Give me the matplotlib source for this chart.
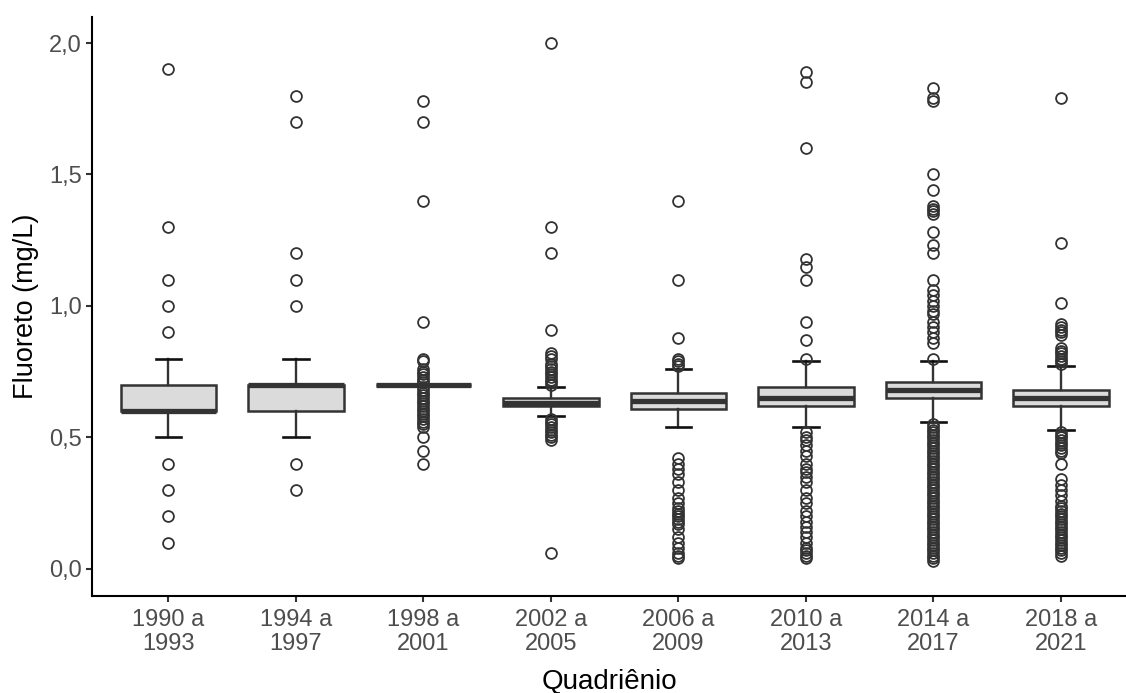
import matplotlib
matplotlib.use("Agg")
import matplotlib.pyplot as plt
from matplotlib.ticker import FuncFormatter

plt.rcParams['font.family'] = ['Liberation Sans', 'DejaVu Sans']

labels = ["1990 a\n1993", "1994 a\n1997", "1998 a\n2001", "2002 a\n2005",
          "2006 a\n2009", "2010 a\n2013", "2014 a\n2017", "2018 a\n2021"]

# box statistics
q1 = [0.60, 0.60, 0.70, 0.62, 0.61, 0.62, 0.65, 0.62]
med = [0.60, 0.70, 0.70, 0.63, 0.64, 0.65, 0.68, 0.65]
q3 = [0.70, 0.70, 0.70, 0.65, 0.67, 0.69, 0.71, 0.68]
whislo = [0.50, 0.50, 0.70, 0.58, 0.54, 0.54, 0.56, 0.53]
whishi = [0.80, 0.80, 0.70, 0.69, 0.76, 0.79, 0.79, 0.77]

out_1990 = [0.1, 0.2, 0.3, 0.4, 0.9, 1.0, 1.1, 1.3, 1.9]
out_1994 = [0.3, 0.4, 1.0, 1.1, 1.2, 1.7, 1.8]
out_1998 = [0.40, 0.45, 0.50, 0.54, 0.55, 0.56, 0.57, 0.58, 0.59, 0.60, 0.61,
            0.62, 0.63, 0.64, 0.65, 0.66, 0.67, 0.68, 0.69, 0.71, 0.72, 0.73,
            0.74, 0.75, 0.76, 0.79, 0.80, 0.94, 1.40, 1.70, 1.78]
out_2002 = [0.06, 0.49, 0.50, 0.51, 0.52, 0.53, 0.54, 0.55, 0.56, 0.57,
            0.70, 0.71, 0.72, 0.73, 0.74, 0.75, 0.76, 0.77, 0.78, 0.80, 0.81,
            0.82, 0.91, 1.2, 1.3, 2.0]
out_2006 = [0.04, 0.05, 0.06, 0.08, 0.10, 0.12, 0.15, 0.17, 0.18, 0.19, 0.20,
            0.21, 0.22, 0.23, 0.25, 0.27, 0.30, 0.33, 0.36, 0.38, 0.40, 0.42,
            0.77, 0.78, 0.79, 0.80, 0.88, 1.1, 1.4]
out_2010 = [0.04, 0.05, 0.06, 0.07, 0.08, 0.10, 0.12, 0.14, 0.16, 0.18, 0.20,
            0.22, 0.25, 0.27, 0.30, 0.33, 0.35, 0.37, 0.38, 0.40, 0.43, 0.45,
            0.47, 0.49, 0.50, 0.52,
            0.80, 0.87, 0.94, 1.10, 1.15, 1.18, 1.60, 1.85, 1.89]
out_2014 = [0.03, 0.04, 0.05, 0.06, 0.07, 0.08, 0.09, 0.10, 0.11, 0.12, 0.13,
            0.14, 0.15, 0.16, 0.17, 0.18, 0.19, 0.20, 0.21, 0.22, 0.23, 0.24,
            0.25, 0.26, 0.27, 0.28, 0.29, 0.30, 0.31, 0.32, 0.33, 0.34, 0.35,
            0.36, 0.37, 0.38, 0.39, 0.40, 0.41, 0.42, 0.43, 0.44, 0.45, 0.46,
            0.47, 0.48, 0.49, 0.50, 0.51, 0.52, 0.53, 0.54, 0.55,
            0.80, 0.86, 0.88, 0.90, 0.92, 0.94, 0.97, 0.98, 1.00, 1.02, 1.04,
            1.06, 1.10, 1.20, 1.23, 1.28, 1.35, 1.36, 1.37, 1.38, 1.44, 1.50,
            1.78, 1.79, 1.83]
out_2018 = [0.05, 0.06, 0.07, 0.08, 0.09, 0.10, 0.11, 0.12, 0.13, 0.14, 0.15,
            0.16, 0.17, 0.18, 0.19, 0.20, 0.21, 0.22, 0.23, 0.24, 0.26, 0.28,
            0.30, 0.32, 0.34, 0.40, 0.44, 0.45, 0.46, 0.47, 0.48, 0.49, 0.50,
            0.51, 0.52,
            0.78, 0.79, 0.80, 0.81, 0.82, 0.83, 0.84, 0.89, 0.90, 0.91, 0.92,
            0.93, 1.01, 1.24, 1.79]
outliers = [out_1990, out_1994, out_1998, out_2002, out_2006, out_2010,
            out_2014, out_2018]

stats = []
for i in range(len(labels)):
    stats.append(dict(q1=q1[i], med=med[i], q3=q3[i], whislo=whislo[i],
                      whishi=whishi[i], fliers=outliers[i]))

dark = "#333333"
fig = plt.figure(figsize=(11.26, 6.93), dpi=100)
ax = fig.add_axes([0.0817, 0.140, 0.9183, 0.8355])

positions = list(range(1, len(labels) + 1))
ax.bxp(stats, positions=positions, widths=0.75, patch_artist=True,
       capwidths=0.2,
       boxprops=dict(facecolor="#DBDBDB", edgecolor=dark, linewidth=1.8),
       medianprops=dict(color=dark, linewidth=3.8, solid_capstyle="butt"),
       whiskerprops=dict(color=dark, linewidth=1.7),
       capprops=dict(color="#111111", linewidth=1.9),
       flierprops=dict(marker="o", markerfacecolor="none",
                       markeredgecolor=dark, markersize=7.8,
                       markeredgewidth=1.3, linestyle="none"))

ax.set_xlim(0.4, 8.51)
ax.set_ylim(-0.103, 2.099)
ax.set_xticks(positions)
ax.set_xticklabels(labels, linespacing=1.1)
ax.set_yticks([0.0, 0.5, 1.0, 1.5, 2.0])
ax.yaxis.set_major_formatter(FuncFormatter(lambda v, p: f"{v:.1f}".replace(".", ",")))

for s in ["top", "right"]:
    ax.spines[s].set_visible(False)
for s in ["left", "bottom"]:
    ax.spines[s].set_linewidth(1.5)
    ax.spines[s].set_color("black")

ax.tick_params(axis="both", length=4.5, width=1.5, color=dark,
               labelcolor="#4D4D4D", labelsize=17, pad=3)
ax.tick_params(axis="x", pad=5)
ax.set_xlabel("Quadriênio", fontsize=20, color="black", labelpad=10)
ax.set_ylabel("Fluoreto (mg/L)", fontsize=19.5, color="black", labelpad=7)

fig.savefig("out.png", dpi=100)
